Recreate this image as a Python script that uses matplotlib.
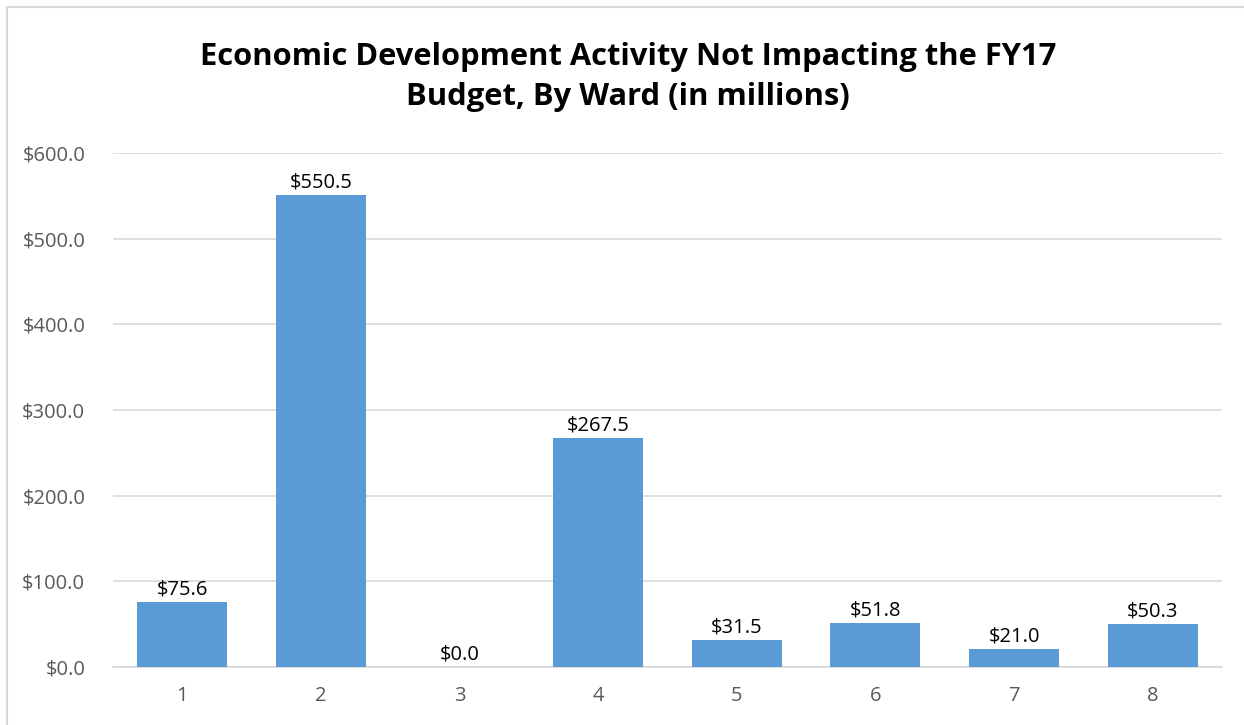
import numpy as np
import matplotlib.pyplot as plt
from matplotlib.patches import Rectangle

wards = ['1', '2', '3', '4', '5', '6', '7', '8']
values = [75.6, 550.5, 0.0, 267.5, 31.5, 51.8, 21.0, 50.3]
yticks = [0, 100, 200, 300, 400, 500, 600]

plt.rcParams['font.family'] = ['Open Sans', 'DejaVu Sans']

fig = plt.figure(figsize=(12.44, 7.25), dpi=100)
# light outer frame of the chart (top/left visible)
fig.patches.append(Rectangle((7 / 1244, -0.1), 1.2, 1 - 7 / 725 + 0.1, transform=fig.transFigure,
                             fill=False, edgecolor='#d9d9d9', linewidth=1.5))

ax = fig.add_axes([113 / 1244, 1 - 667 / 725, (1222 - 113) / 1244, (667 - 153) / 725])
x = np.arange(len(wards))
bars = ax.bar(x, values, width=0.65, color='#5b9bd5', zorder=3)

for xi, v in zip(x, values):
    ax.text(xi, v + 3, '$%.1f' % v, ha='center', va='bottom', fontsize=14.5, color='black')

ax.set_xlim(-0.5, len(wards) - 0.5)
ax.set_ylim(0, 600)
ax.set_yticks(yticks)
ax.set_yticklabels(['$%.1f' % t for t in yticks])
ax.set_xticks(x)
ax.set_xticklabels(wards)
ax.tick_params(axis='both', length=0, labelsize=14.5, labelcolor='#595959')
ax.tick_params(axis='y', pad=20)
ax.tick_params(axis='x', pad=14)
ax.grid(axis='y', color='#d9d9d9', linewidth=1.2, zorder=0)
for s in ['top', 'right', 'left']:
    ax.spines[s].set_visible(False)
ax.spines['bottom'].set_color('#d9d9d9')
ax.spines['bottom'].set_linewidth(1.2)

fig.text(628 / 1244, 1 - 77 / 725, 'Economic Development Activity Not Impacting the FY17\nBudget, By Ward (in millions)',
         ha='center', va='center', fontsize=22.2, fontweight='bold', linespacing=1.4)

fig.savefig('out.png', dpi=100)
